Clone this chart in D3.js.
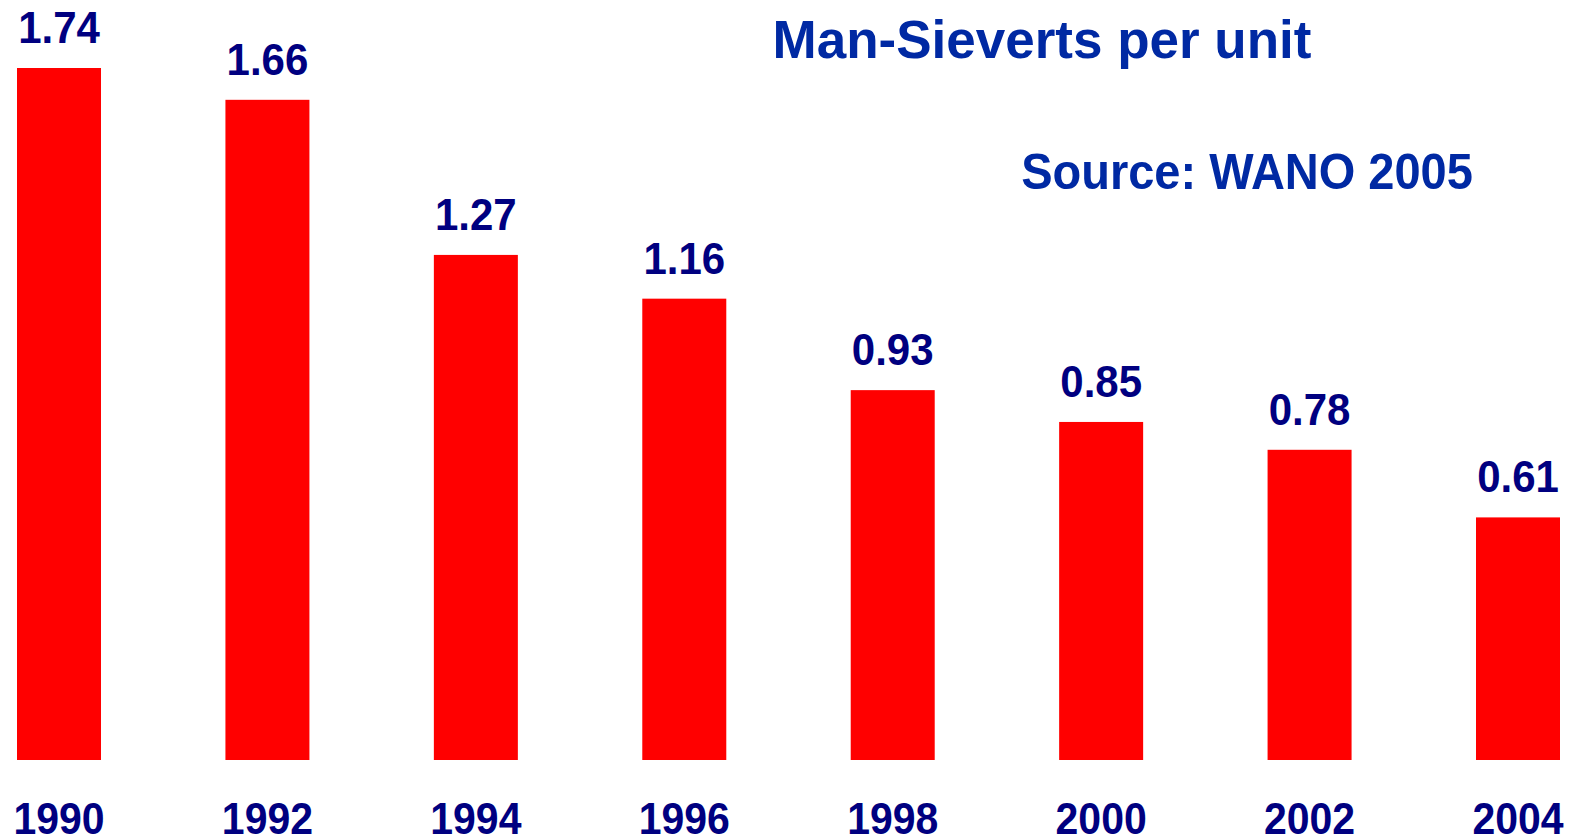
<!DOCTYPE html>
<html>
<head>
<meta charset="utf-8">
<script src="https://d3js.org/d3.v7.min.js"></script>
<style>
  body { margin: 0; background: #fff; }
  text { font-family: "Liberation Sans", Arial, sans-serif; font-weight: bold; }
</style>
</head>
<body>
<div id="chart"></div>
<script>
const years = ["1990", "1992", "1994", "1996", "1998", "2000", "2002", "2004"];
const values = [1.74, 1.66, 1.27, 1.16, 0.93, 0.85, 0.78, 0.61];
const valueLabels = ["1.74", "1.66", "1.27", "1.16", "0.93", "0.85", "0.78", "0.61"];

const width = 1572, height = 839;

const svg = d3.select("#chart").append("svg")
  .attr("width", width)
  .attr("height", height);

const x = d3.scaleBand()
  .domain(years)
  .range([17, 1560])
  .paddingInner(0.597)
  .paddingOuter(0);

const y = d3.scaleLinear()
  .domain([0, 1.74])
  .range([760, 68]);

// bars
svg.selectAll("rect.bar")
  .data(values)
  .enter()
  .append("rect")
  .attr("class", "bar")
  .attr("x", (d, i) => x(years[i]))
  .attr("y", d => y(d))
  .attr("width", x.bandwidth())
  .attr("height", d => y(0) - y(d))
  .attr("fill", "#ff0000");

// value labels
svg.selectAll("text.val")
  .data(values)
  .enter()
  .append("text")
  .attr("class", "val")
  .attr("transform", (d, i) => "translate(" + (x(years[i]) + x.bandwidth() / 2) + "," + (y(d) - 25) + ") scale(1,1.05)")
  .attr("text-anchor", "middle")
  .attr("font-size", 42)
  .attr("fill", "#000080")
  .text((d, i) => valueLabels[i]);

// year labels
const xAxis = svg.append("g");
xAxis.selectAll("text")
  .data(years)
  .enter()
  .append("text")
  .attr("transform", d => "translate(" + (x(d) + x.bandwidth() / 2) + ",834) scale(1,1.1)")
  .attr("text-anchor", "middle")
  .attr("font-size", 41)
  .attr("fill", "#000080")
  .text(d => d);

// titles
svg.append("text")
  .attr("x", 1042)
  .attr("y", 58)
  .attr("text-anchor", "middle")
  .attr("font-size", 53)
  .attr("fill", "#0029a3")
  .text("Man-Sieverts per unit");

svg.append("text")
  .attr("transform", "translate(1247,189) scale(1,1.07)")
  .attr("text-anchor", "middle")
  .attr("font-size", 47)
  .attr("fill", "#0029a3")
  .text("Source: WANO 2005");
</script>
</body>
</html>
